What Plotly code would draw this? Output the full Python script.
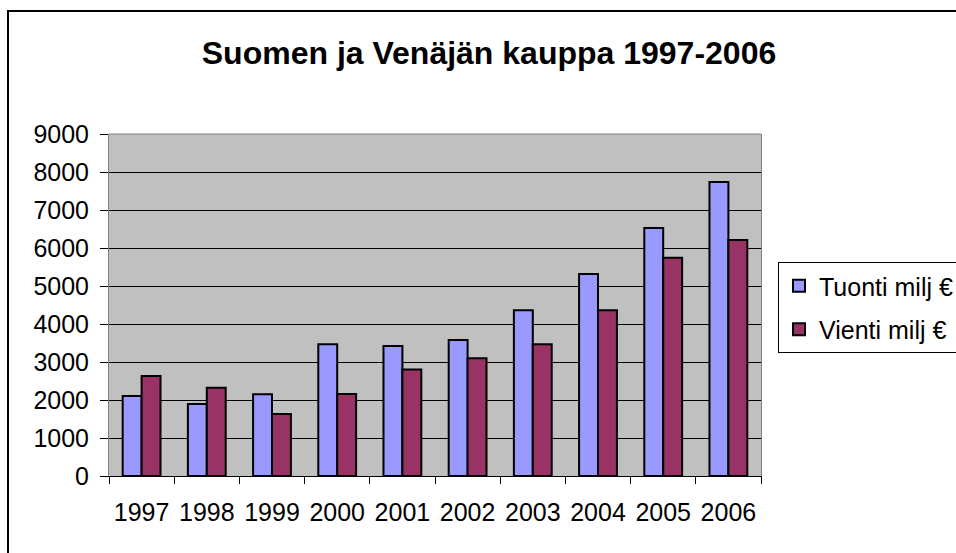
import plotly.graph_objects as go

years = ["1997", "1998", "1999", "2000", "2001", "2002", "2003", "2004", "2005", "2006"]
tuonti = [2105, 1895, 2150, 3470, 3420, 3580, 4360, 5315, 6525, 7740]
vienti = [2630, 2325, 1630, 2160, 2800, 3100, 3470, 4360, 5745, 6210]
series_names = ["Tuonti milj €", "Vienti milj €"]
title_text = "Suomen ja Venäjän kauppa 1997-2006"
ytick_vals = [0, 1000, 2000, 3000, 4000, 5000, 6000, 7000, 8000, 9000]

W, H = 956, 553
L, R, T, B = 109, 761, 134, 476

fig = go.Figure()
fig.add_trace(go.Bar(x=years, y=tuonti, name=series_names[0], legendgroup="a",
                     marker=dict(color="#9999FF", line=dict(color="black", width=2))))
fig.add_trace(go.Bar(x=years, y=vienti, name=series_names[1], legendgroup="b",
                     marker=dict(color="#993366", line=dict(color="black", width=2))))

pw, ph = R - L, B - T

def px_x(x):
    return (x - L) / pw

def px_y(y):
    return (B - y) / ph

fig.update_layout(
    width=W, height=H,
    margin=dict(l=L, r=W - R, t=T, b=H - B, autoexpand=False),
    paper_bgcolor="white",
    plot_bgcolor="#C0C0C0",
    font=dict(family="Liberation Sans, Arial, sans-serif", size=25, color="black"),
    title=dict(text="<b>" + title_text + "</b>", x=489 / W, xref="container", xanchor="center",
               y=1 - 53 / H, yref="container", yanchor="middle",
               font=dict(size=32, family="Liberation Sans, Arial, sans-serif", color="black")),
    barmode="group",
    bargap=0.42,
    bargroupgap=0,
    showlegend=True,
    legend=dict(x=px_x(778), y=px_y(262), xanchor="left", yanchor="top",
                bgcolor="white", bordercolor="black", borderwidth=1,
                font=dict(size=25), tracegroupgap=8, traceorder="grouped"),
    xaxis=dict(type="category", showgrid=False, showline=True, linecolor="black", linewidth=1,
               ticks="outside", tickson="boundaries", ticklen=7, tickcolor="black",
               ticklabelstandoff=14, tickfont=dict(size=25)),
    yaxis=dict(range=[0, 9000], tickvals=ytick_vals, showgrid=True, gridcolor="black", gridwidth=1,
               showline=True, linecolor="#808080", linewidth=1, mirror=True,
               zeroline=False, ticks="outside", ticklen=8, tickcolor="black",
               ticklabelstandoff=6, tickfont=dict(size=25)),
    shapes=[
        dict(type="rect", xref="paper", yref="paper",
             x0=px_x(8), x1=px_x(990), y0=px_y(590), y1=px_y(11),
             line=dict(color="black", width=2), fillcolor="rgba(0,0,0,0)", layer="above"),
        dict(type="line", xref="paper", yref="paper", x0=0, x1=1, y0=1, y1=1,
             line=dict(color="#808080", width=1), layer="above"),
    ],
)

fig.write_html(
    "out.html",
    config={"displayModeBar": False},
    post_script="document.body.style.margin='0';document.body.style.overflow='hidden';",
)
